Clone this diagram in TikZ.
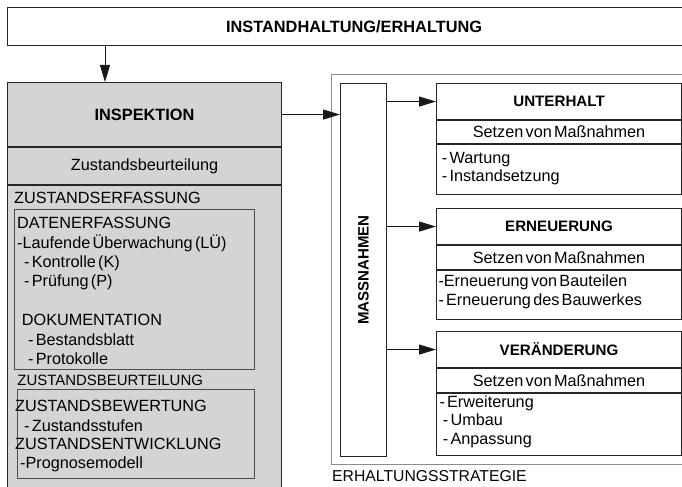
\documentclass[tikz,border=0pt]{standalone}
\usepackage{fontspec}
\setmainfont{Liberation Sans}[WordSpace=0.5]
\usetikzlibrary{arrows.meta,positioning}
\definecolor{panelgray}{RGB}{212,212,212}
\definecolor{framegray}{RGB}{140,140,140}
\newcommand{\fnorm}{\fontsize{16.3}{19}\selectfont}
\newcommand{\fbig}{\bfseries\fontsize{16.4}{19}\selectfont}
\newcommand{\fhead}{\bfseries\fontsize{15.2}{18}\selectfont}
\tikzset{
  box/.style={draw=black!85,line width=1.1bp,inner sep=0pt,anchor=north west},
  inbox/.style={box,draw=black!70,line width=0.8bp},
  txt/.style={inner sep=0pt,anchor=base west,font=\fnorm},
  arr/.style={-{Triangle[length=17bp,width=10bp]},line width=0.8bp,draw=black!90,fill=black!90},
}
\begin{document}
\begin{tikzpicture}[x=1bp,y=-1bp]
            \useasboundingbox (0,0) rectangle (682,487);

            \node[box,line width=1.2bp,minimum width=693bp,minimum height=38bp,font=\fbig] (top) at (7,7) {INSTANDHALTUNG/ERHALTUNG};

            % linke Seite
            \node[box,fill=panelgray,minimum width=274bp,minimum height=64bp,font=\fbig] (insp) at (7,82) {INSPEKTION};
            \node[box,fill=panelgray,minimum width=274bp,minimum height=37bp,font=\fnorm] (zb) at (insp.south west) {Zustandsbeurteilung};
            \node[box,fill=panelgray,minimum width=274bp,minimum height=303bp] (panel) at (zb.south west) {};
            \node[inbox,minimum width=240bp,minimum height=160bp] (erf) at (14,209) {};
            \node[inbox,minimum width=237bp,minimum height=89bp] (bew) at (17,389) {};

            \coordinate (a0) at (105,0);
            \draw[arr] (top.south -| a0) -- (insp.north -| a0);

            \node[txt] (zerf) at (14,203.7) {ZUSTANDSERFASSUNG};
            \node[txt] (daten) at (17,229) {DATENERFASSUNG};
            \node[txt] (lue) at (17,248.3) {-Laufende Überwachung (LÜ)};
            \node[txt] (kon) at (24,267.7) {- Kontrolle (K)};
            \node[txt] (pru) at (24,286.7) {- Prüfung (P)};
            \node[txt] (doku) at (21.7,325.7) {DOKUMENTATION};
            \node[txt] (best) at (28,345) {- Bestandsblatt};
            \node[txt] (prot) at (28,364.3) {- Protokolle};
            \node[txt,font=\fontsize{15}{18}\selectfont] (zbeu) at (17.3,385.7) {ZUSTANDSBEURTEILUNG};
            \node[txt] (zbew) at (15,411.7) {ZUSTANDSBEWERTUNG};
            \node[txt] (stuf) at (24,431) {- Zustandsstufen};
            \node[txt] (zent) at (15,449.3) {ZUSTANDSENTWICKLUNG};
            \node[txt] (prog) at (20,468.3) {-Prognosemodell};

            % rechte Seite
            \node[box,draw=framegray,line width=1.2bp,minimum width=369bp,minimum height=390bp] (strat) at (331,74) {};
            \node[txt,font=\fontsize{15.8}{18}\selectfont] (stratlbl) at (332,481.7) {ERHALTUNGSSTRATEGIE};

            \node[box,minimum width=46bp,minimum height=373bp] (mass) at (340,83) {};
            \node[rotate=90,inner sep=0pt,font=\bfseries\fontsize{15.1}{18}\selectfont] (masslbl) at (mass.center) {MASSNAHMEN};
            \draw[arr] (insp.east) -- (mass.west |- insp.east);

            \node[box,minimum width=245bp,minimum height=36bp,font=\fhead] (unt) at (436,83) {UNTERHALT};
            \node[box,minimum width=245bp,minimum height=23bp,font=\fnorm,below=0pt of unt] (untset) {Setzen von Maßnahmen};
            \node[box,minimum width=245bp,minimum height=50bp,below=0pt of untset] (untlist) {};
            \node[txt] (w1) at (441.7,163.3) {- Wartung};
            \node[txt] (w2) at (441.7,181.7) {- Instandsetzung};
            \draw[arr] (mass.east |- unt.west) -- (unt.west);

            \node[box,minimum width=245bp,minimum height=36bp,font=\fhead] (ern) at (436,208) {ERNEUERUNG};
            \node[box,minimum width=245bp,minimum height=24bp,font=\fnorm,below=0pt of ern] (ernset) {Setzen von Maßnahmen};
            \node[box,minimum width=245bp,minimum height=49bp,below=0pt of ernset] (ernlist) {};
            \node[txt] (e1) at (438.3,286.7) {-Erneuerung von Bauteilen};
            \node[txt] (e2) at (438.3,305) {- Erneuerung des Bauwerkes};
            \draw[arr] (mass.east |- ern.west) -- (ern.west);

            \node[box,minimum width=245bp,minimum height=36bp,font=\fhead] (ver) at (436,331) {VERÄNDERUNG};
            \node[box,minimum width=245bp,minimum height=24bp,font=\fnorm,below=0pt of ver] (verset) {Setzen von Maßnahmen};
            \node[box,minimum width=245bp,minimum height=62bp,below=0pt of verset] (verlist) {};
            \node[txt] (v1) at (439.3,407.3) {- Erweiterung};
            \node[txt] (v2) at (442.7,425) {- Umbau};
            \node[txt] (v3) at (442.7,444) {- Anpassung};
            \draw[arr] (mass.east |- ver.west) -- (ver.west);
\end{tikzpicture}
\end{document}
